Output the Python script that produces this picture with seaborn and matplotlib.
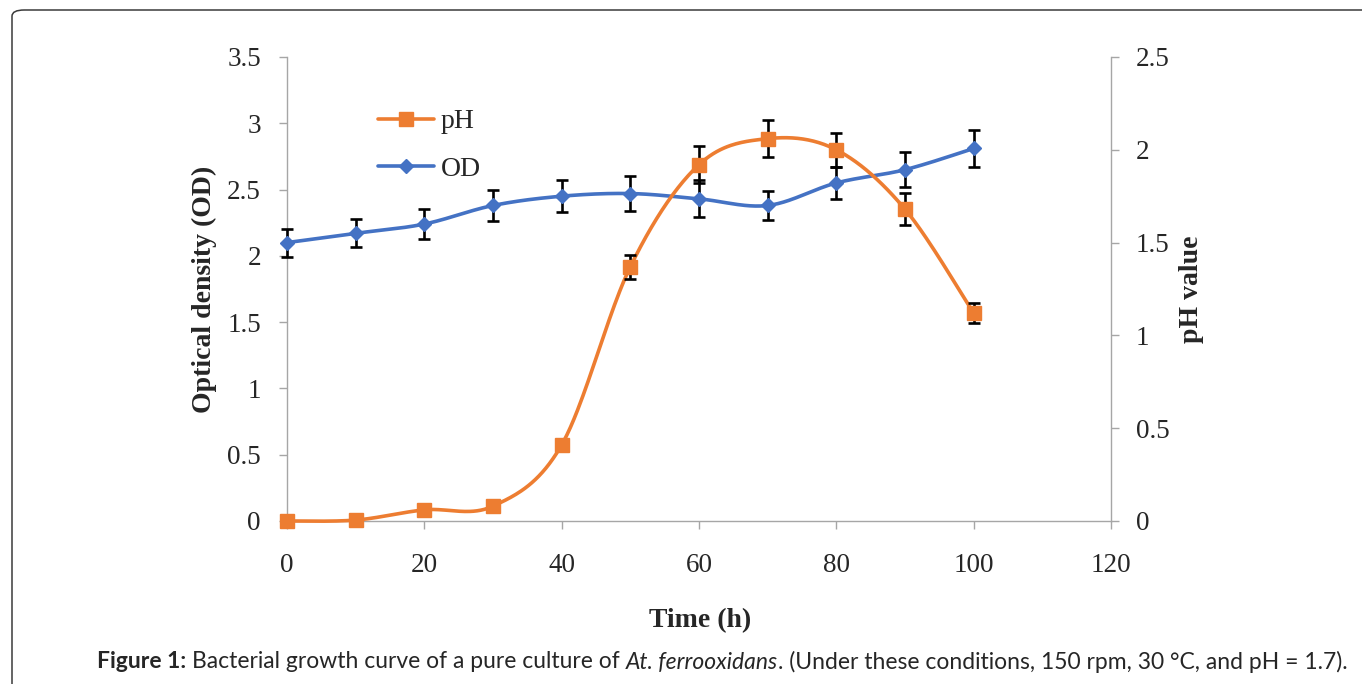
import numpy as np
import pandas as pd
import matplotlib
matplotlib.use("Agg")
import matplotlib.pyplot as plt
import seaborn as sns
from matplotlib.patches import FancyBboxPatch
from matplotlib.lines import Line2D

# ---------------- data ----------------
time_h = [0, 10, 20, 30, 40, 50, 60, 70, 80, 90, 100]
od_values = [2.10, 2.17, 2.24, 2.38, 2.45, 2.47, 2.43, 2.38, 2.55, 2.65, 2.81]
od_err = [0.105, 0.105, 0.11, 0.12, 0.12, 0.13, 0.14, 0.11, 0.12, 0.13, 0.14]
ph_values = [0.0, 0.005, 0.06, 0.08, 0.41, 1.37, 1.92, 2.06, 2.00, 1.68, 1.12]
ph_err = [0.0, 0.0, 0.0, 0.0, 0.0, 0.065, 0.10, 0.10, 0.093, 0.086, 0.054]
x_ticks = [0, 20, 40, 60, 80, 100, 120]
od_ticks = [0, 0.5, 1, 1.5, 2, 2.5, 3, 3.5]
od_tick_labels = ["0", "0.5", "1", "1.5", "2", "2.5", "3", "3.5"]
ph_ticks = [0, 0.5, 1, 1.5, 2, 2.5]
ph_tick_labels = ["0", "0.5", "1", "1.5", "2", "2.5"]
caption_parts = [("Figure 1:", "bold", "normal"),
                 ("Bacterial growth curve of a pure culture of", "normal", "normal"),
                 ("At. ferrooxidans", "normal", "italic"),
                 (". (Under these conditions, 150 rpm, 30 °C, and pH = 1.7).", "normal", "normal")]
caption_space_after = [True, True, False, False]

BLUE = "#4472C4"
ORANGE = "#ED7D31"
GRID = "#A6A6A6"
LW = 2.6


def smooth(x, y, n=40):
    """Excel-like smoothed line (Catmull-Rom Bezier through the data points)."""
    P = np.column_stack([np.asarray(x, float), np.asarray(y, float)])
    Q = np.vstack([P[0], P, P[-1]])
    t = np.linspace(0, 1, n)[:, None]
    segs = []
    for i in range(len(P) - 1):
        p0, p3 = Q[i + 1], Q[i + 2]
        c1 = p0 + (Q[i + 2] - Q[i]) / 6.0
        c2 = p3 - (Q[i + 3] - Q[i + 1]) / 6.0
        seg = (1 - t) ** 3 * p0 + 3 * (1 - t) ** 2 * t * c1 + 3 * (1 - t) * t ** 2 * c2 + t ** 3 * p3
        segs.append(seg if i == 0 else seg[1:])
    a = np.vstack(segs)
    return pd.DataFrame({"x": a[:, 0], "y": a[:, 1]})


sns.set_style("white")
plt.rcParams["font.family"] = ["Liberation Serif", "DejaVu Serif"]

W, H = 1362, 684
fig = plt.figure(figsize=(W / 100, H / 100), dpi=100)
L, R, T, B = 287, 1111, 57, 521
ax = fig.add_axes([L / W, 1 - B / H, (R - L) / W, (B - T) / H])
ax2 = ax.twinx()


def draw_series(a, x, y, err, color, marker, ms):
    s = smooth(x, y)
    sns.lineplot(data=s, x="x", y="y", ax=a, color=color, lw=LW, sort=False,
                 estimator=None, zorder=2, clip_on=False)
    eb = a.errorbar(x, y, yerr=err, fmt="none", ecolor="black",
                    elinewidth=1.9, capsize=4.3, capthick=1.9, zorder=3)
    for art in eb.get_children():
        art.set_clip_on(False)
    a.plot(x, y, ls="none", marker=marker, ms=ms, color=color, zorder=4, clip_on=False)


draw_series(ax, time_h, od_values, od_err, BLUE, "D", 7.4)
draw_series(ax2, time_h, ph_values, ph_err, ORANGE, "s", 10.5)

ax.set_xlim(0, 120)
ax.set_ylim(0, 3.5)
ax2.set_ylim(0, 2.5)
ax.set_xticks(x_ticks)
ax.set_xticklabels([str(v) for v in x_ticks])
ax.set_yticks(od_ticks)
ax.set_yticklabels(od_tick_labels)
ax2.set_yticks(ph_ticks)
ax2.set_yticklabels(ph_tick_labels)

for a in (ax, ax2):
    for s in a.spines.values():
        s.set_color(GRID)
        s.set_linewidth(1.0)
    a.spines["top"].set_visible(False)
    a.grid(False)
ax.spines["right"].set_visible(False)
ax2.spines["left"].set_visible(False)
ax2.spines["bottom"].set_visible(False)

tick_fs = 19.5
ax.tick_params(axis="y", which="major", direction="out", length=5.8, width=1.0,
               color=GRID, labelsize=tick_fs, pad=13, left=True)
ax.tick_params(axis="x", which="major", direction="out", length=5.8, width=1.0,
               color=GRID, labelsize=tick_fs, pad=17, bottom=True)
ax2.tick_params(axis="y", which="major", direction="out", length=5.8, width=1.0,
                color=GRID, labelsize=tick_fs, pad=12, right=True)

lab_fs = 20
ax.set_xlabel("Time (h)", fontsize=lab_fs, fontweight="bold")
ax.xaxis.set_label_coords((700 - L) / (R - L), (B - 608) / (B - T))
ax.set_ylabel("Optical density (OD)", fontsize=lab_fs, fontweight="bold")
ax.yaxis.set_label_coords((217 - L) / (R - L), 0.5)
ax2.set_ylabel("pH value", fontsize=lab_fs, fontweight="bold")
ax2.yaxis.set_label_coords((1179 - L) / (R - L), (B - 289) / (B - T))

# ---- legend ----
handles = [Line2D([], [], color=ORANGE, lw=LW, marker="s", ms=10.5),
           Line2D([], [], color=BLUE, lw=LW, marker="D", ms=7.4)]
ax2.legend(handles, ["pH", "OD"], loc="upper left",
           bbox_to_anchor=(378 / W, 1 - 109 / H), bbox_transform=fig.transFigure,
           frameon=False, fontsize=lab_fs, handlelength=2.0, handletextpad=0.25,
           labelspacing=0.78, borderpad=0, borderaxespad=0)

# ---- outer rounded border ----
border = FancyBboxPatch((12 / W, -0.2), 1.2, 1 - 10 / H + 0.2,
                        boxstyle="round,pad=0,rounding_size=0.009",
                        transform=fig.transFigure, fill=False,
                        edgecolor="#3a3a3a", lw=1.1, clip_on=False)
fig.add_artist(border)

# ---- caption ----
cap_family = ["Lato", "DejaVu Sans"]
renderer = fig.canvas.get_renderer()


def width_px(s, fs, weight="normal", style="normal"):
    t = fig.text(0, 0, s, fontsize=fs, family=cap_family, fontweight=weight, fontstyle=style)
    w = t.get_window_extent(renderer).width
    t.remove()
    return w


def layout(fs):
    sp = width_px("a a", fs) - width_px("aa", fs)
    widths = [width_px(s, fs, w, st) for s, w, st in caption_parts]
    total = sum(widths) + sp * sum(caption_space_after)
    return widths, sp, total


fs0 = 15
_, _, tot0 = layout(fs0)
cap_fs = fs0 * (1251 / tot0)
widths, sp, total = layout(cap_fs)
x = 97
for (s, w, st), wd, gap in zip(caption_parts, widths, caption_space_after):
    fig.text(x / W, 1 - 662 / H, s, fontsize=cap_fs, family=cap_family,
             fontweight=w, fontstyle=st, ha="left", va="center")
    x += wd + (sp if gap else 0)

fig.savefig("out.png", dpi=100)
